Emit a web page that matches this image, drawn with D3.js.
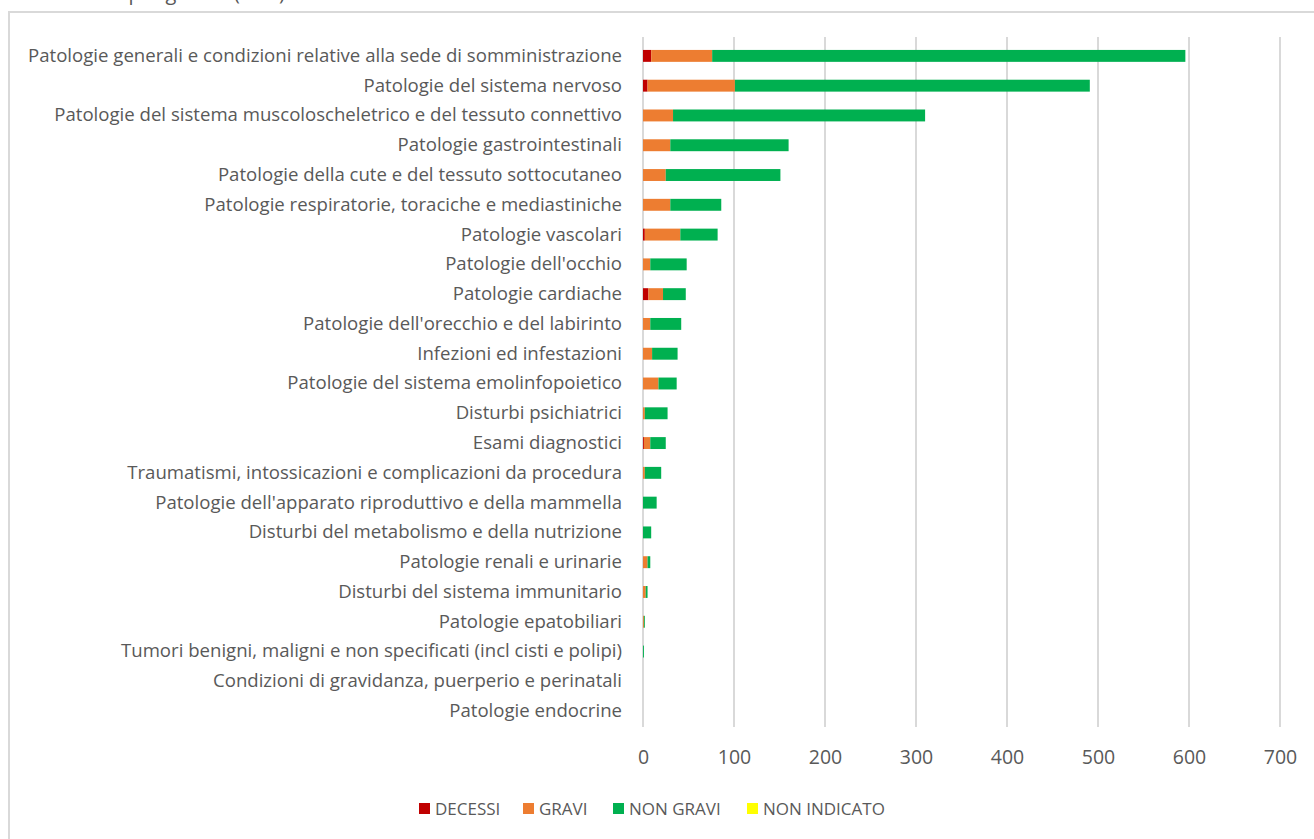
<!DOCTYPE html>
<html>
<head>
<meta charset="utf-8">
<script src="https://cdn.jsdelivr.net/npm/d3@7"></script>
<style>
  body { margin: 0; background: #fff; }
  svg text { font-family: "Open Sans", Lato, sans-serif; fill: #595959; }
</style>
</head>
<body>
<svg id="chart"></svg>
<script>
// categories (top to bottom)
var categories = [
  "Patologie generali e condizioni relative alla sede di somministrazione",
  "Patologie del sistema nervoso",
  "Patologie del sistema muscoloscheletrico e del tessuto connettivo",
  "Patologie gastrointestinali",
  "Patologie della cute e del tessuto sottocutaneo",
  "Patologie respiratorie, toraciche e mediastiniche",
  "Patologie vascolari",
  "Patologie dell'occhio",
  "Patologie cardiache",
  "Patologie dell'orecchio e del labirinto",
  "Infezioni ed infestazioni",
  "Patologie del sistema emolinfopoietico",
  "Disturbi psichiatrici",
  "Esami diagnostici",
  "Traumatismi, intossicazioni e complicazioni da procedura",
  "Patologie dell'apparato riproduttivo e della mammella",
  "Disturbi del metabolismo e della nutrizione",
  "Patologie renali e urinarie",
  "Disturbi del sistema immunitario",
  "Patologie epatobiliari",
  "Tumori benigni, maligni e non specificati (incl cisti e polipi)",
  "Condizioni di gravidanza, puerperio e perinatali",
  "Patologie endocrine"
];

var decessi     = [9, 5, 0, 0, 0, 0, 2, 0, 6, 0, 0, 0, 0, 1, 0, 0, 0, 0, 0, 0, 0, 0, 0];
var gravi       = [67, 96, 33, 30, 25, 30, 39, 8, 16, 8, 10, 17, 2, 7, 2, 0, 0, 5, 3, 1, 0, 0, 0];
var nonGravi    = [520, 390, 277, 130, 126, 56, 41, 40, 25, 34, 28, 20, 25, 17, 18, 15, 9, 3, 2, 1, 1, 0, 0];
var nonIndicato = [0, 0, 0, 0, 0, 0, 0, 0, 0, 0, 0, 0, 0, 0, 0, 0, 0, 0, 0, 0, 0, 0, 0];

var seriesNames = ["DECESSI", "GRAVI", "NON GRAVI", "NON INDICATO"];
var seriesColors = ["#c00000", "#ed7d31", "#00b050", "#ffff00"];
var xTicks = [0, 100, 200, 300, 400, 500, 600, 700];

var width = 1314, height = 839;
var svg = d3.select("#chart").attr("width", width).attr("height", height);

// chart frame
svg.append("rect")
  .attr("x", 9).attr("y", 12)
  .attr("width", width + 20).attr("height", height + 20)
  .attr("fill", "none").attr("stroke", "#d9d9d9").attr("stroke-width", 2);

// title, cut off by the top edge as in the original
svg.append("text")
  .attr("x", 285).attr("y", 0)
  .attr("text-anchor", "end")
  .style("font-size", "20px")
  .text("per gravità (SOC)");

var table = categories.map(function(c, i) {
  return { cat: c, DECESSI: decessi[i], GRAVI: gravi[i], "NON GRAVI": nonGravi[i], "NON INDICATO": nonIndicato[i] };
});
var stacked = d3.stack().keys(seriesNames)(table);

var plotLeft = 643, plotRight = 1280, plotTop = 41, plotBottom = 726;

var xScale = d3.scaleLinear().domain([0, 700]).range([plotLeft, plotRight]);
var yScale = d3.scaleBand().domain(categories).range([plotTop, plotBottom]).paddingInner(0.6).paddingOuter(0.3);

// gridlines
svg.append("g")
  .selectAll("line")
  .data(xTicks)
  .enter()
  .append("line")
    .attr("x1", d => xScale(d)).attr("x2", d => xScale(d))
    .attr("y1", 37).attr("y2", 727)
    .attr("stroke", "#d9d9d9").attr("stroke-width", 2);

// bars
svg.append("g")
  .selectAll("g")
  .data(stacked)
  .enter()
  .append("g")
    .attr("fill", (d, i) => seriesColors[i])
  .selectAll("rect")
  .data(d => d)
  .enter()
  .append("rect")
    .attr("x", d => xScale(d[0]))
    .attr("y", d => yScale(d.data.cat))
    .attr("width", d => xScale(d[1]) - xScale(d[0]))
    .attr("height", yScale.bandwidth());

// category labels
var yAxis = d3.axisLeft(yScale).tickSize(0).tickPadding(0);
svg.append("g")
  .attr("transform", "translate(622,0)")
  .call(yAxis)
  .call(g => g.select(".domain").remove())
  .selectAll("text")
    .style("font-size", "18.6px")
    .style("font-family", "'Open Sans', sans-serif")
    .attr("fill", "#595959");

// x axis
var xAxis = d3.axisBottom(xScale).tickValues(xTicks).tickSize(0).tickPadding(0);
svg.append("g")
  .attr("transform", "translate(0,750)")
  .call(xAxis)
  .call(g => g.select(".domain").remove())
  .selectAll("text")
    .style("font-size", "19.5px")
    .style("font-family", "'Open Sans', sans-serif")
    .attr("fill", "#595959");

// legend
var legendX = [419, 523, 613, 747];
var legend = svg.append("g")
  .selectAll("g")
  .data(seriesNames)
  .enter()
  .append("g")
    .attr("transform", (d, i) => "translate(" + legendX[i] + ",803)");
legend.append("rect")
  .attr("width", 11).attr("height", 11)
  .attr("fill", (d, i) => seriesColors[i]);
legend.append("text")
  .attr("x", 16).attr("y", 12)
  .style("font-size", "17px")
  .text(d => d);
</script>
</body>
</html>
